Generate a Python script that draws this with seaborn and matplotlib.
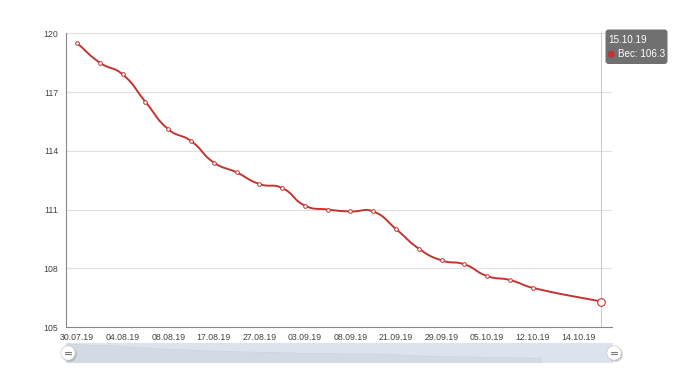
import numpy as np
import pandas as pd
import matplotlib
matplotlib.use("Agg")
import matplotlib.pyplot as plt
import seaborn as sns
from matplotlib.patches import FancyBboxPatch, Circle, Rectangle

# ---------------- data ----------------
dates = ["30.07.19", "01.08.19", "04.08.19", "06.08.19", "08.08.19", "13.08.19",
         "17.08.19", "22.08.19", "27.08.19", "31.08.19", "03.09.19", "06.09.19",
         "08.09.19", "14.09.19", "21.09.19", "25.09.19", "29.09.19", "02.10.19",
         "05.10.19", "09.10.19", "12.10.19", "13.10.19", "14.10.19", "15.10.19"]
weights = [119.5, 118.5, 117.9, 116.5, 115.1, 114.5, 113.4, 112.9, 112.3, 112.1,
           111.2, 111.0, 110.9, 110.9, 110.0, 109.0, 108.4, 108.2, 107.6, 107.4,
           107.0, np.nan, np.nan, 106.3]
y_ticks = [105, 108, 111, 114, 117, 120]
series_name = "Вес"
hover_index = 23

RED = "#c23531"
W, H = 680, 383

sns.set_style("white")
plt.rcParams["font.family"] = ["Liberation Sans", "DejaVu Sans"]

df = pd.DataFrame({"date": dates, "weight": weights})
df["idx"] = np.arange(len(df))
valid = df.dropna()


def smooth_curve(xs, ys, sx, sy, smooth=0.5, n=40):
    """ECharts-like smooth bezier through points (rendering only)."""
    P = np.column_stack([np.asarray(xs, float) * sx, np.asarray(ys, float) * sy])
    N = len(P)
    cps = []
    for i in range(N):
        p = P[i]
        prev = P[i - 1] if i > 0 else p
        nxt = P[i + 1] if i < N - 1 else p
        v = (nxt - prev) * smooth
        d0 = np.linalg.norm(p - prev)
        d1 = np.linalg.norm(p - nxt)
        s = d0 + d1
        if s:
            d0 /= s
            d1 /= s
        cps.append((p - v * d0, p + v * d1))
    t = np.linspace(0, 1, n)[:, None]
    segs = []
    for i in range(N - 1):
        p0, c1, c2, p3 = P[i], cps[i][1], cps[i + 1][0], P[i + 1]
        B = (1 - t) ** 3 * p0 + 3 * (1 - t) ** 2 * t * c1 + 3 * (1 - t) * t ** 2 * c2 + t ** 3 * p3
        segs.append(B if i == 0 else B[1:])
    B = np.vstack(segs)
    return B[:, 0] / sx, B[:, 1] / sy


fig = plt.figure(figsize=(W / 100, H / 100), dpi=100)


def px_axes(x0, y0, x1, y1):
    return fig.add_axes([x0 / W, 1 - y1 / H, (x1 - x0) / W, (y1 - y0) / H])


# ---------------- main chart ----------------
ax = px_axes(65.7, 33.3, 612.5, 327.0)
ax.set_xlim(-0.5, len(dates) - 0.5)
ax.set_ylim(105, 120)

cx, cy = smooth_curve(valid["idx"], valid["weight"], 22.77, 19.53)
curve = pd.DataFrame({"x": cx, "y": cy})
sns.lineplot(data=curve, x="x", y="y", ax=ax, color=RED, linewidth=1.4,
             sort=False, estimator=None, zorder=3)

small = valid[valid["idx"] != hover_index]
sns.scatterplot(data=small, x="idx", y="weight", ax=ax, s=7, facecolor="white",
                edgecolor=RED, linewidth=0.7, zorder=4)
big = valid[valid["idx"] == hover_index]
sns.scatterplot(data=big, x="idx", y="weight", ax=ax, s=30, facecolor="white",
                edgecolor=RED, linewidth=0.8, zorder=5)

# hover cursor line
ax.axvline(hover_index, color="#cccccc", lw=0.8, zorder=1)

for yt in y_ticks[1:]:
    ax.axhline(yt, color="#e0e0e0", lw=0.8, zorder=0)

ax.set_yticks(y_ticks)
ax.set_yticklabels([str(v) for v in y_ticks])
ax.set_xticks(np.arange(0, len(dates), 2))
ax.set_xticklabels(dates[::2])
ax.set_xticks(np.arange(1, len(dates), 2), minor=True)
ax.tick_params(axis="x", which="major", length=0, pad=4.5, labelsize=6.3, colors="#444444")
ax.tick_params(axis="x", which="minor", length=3, width=0.8, color="#888888")
ax.tick_params(axis="y", length=2.2, width=0.8, color="#888888", pad=3,
               labelsize=6.3, labelcolor="#444444")
ax.set_xlabel("")
ax.set_ylabel("")
for side in ["top", "right"]:
    ax.spines[side].set_visible(False)
for side in ["left", "bottom"]:
    ax.spines[side].set_color("#888888")
    ax.spines[side].set_linewidth(0.8)
ax.set_facecolor("none")

# ---------------- data zoom slider ----------------
sax = px_axes(66, 343.3, 613, 362.7)
sax.set_xlim(0, len(dates) - 1)
sax.set_ylim(103.2, 120.1)
sax.add_patch(Rectangle((0, 0), 1, 1, transform=sax.transAxes, color="#dde3ec", zorder=0))
shadow = df.iloc[:21]
sax.fill_between(shadow["idx"], shadow["weight"], 103.2, color="#2f4554", alpha=0.05,
                 lw=0, zorder=1)
sax.plot(shadow["idx"], shadow["weight"], color="#2f4554", alpha=0.1, lw=0.5, zorder=2)
sax.axis("off")

# ---------------- overlay (handles, tooltip) ----------------
ov = fig.add_axes([0, 0, 1, 1])
ov.set_xlim(0, W)
ov.set_ylim(H, 0)
ov.axis("off")
ov.patch.set_alpha(0)

for hx in (68, 614):
    ov.add_patch(Circle((hx + 1.4, 354.4), 7.4, color="#8a8a8a", alpha=0.45, lw=0, zorder=5))
    ov.add_patch(Circle((hx, 353), 7.2, facecolor="white", edgecolor="#c8c8c8", lw=0.5, zorder=6))
    for dy in (-1.3, 1.3):
        ov.plot([hx - 2.6, hx + 2.6], [353 + dy, 353 + dy], color="#777777", lw=0.8, zorder=7)

ov.add_patch(FancyBboxPatch((605.5, 29.5), 62, 34.5,
                            boxstyle="round,pad=0,rounding_size=3",
                            facecolor="#707070", edgecolor="none", zorder=8))
ov.text(608.5, 40.3, dates[hover_index], color="white", fontsize=7.1,
        va="center", ha="left", zorder=9)
ov.add_patch(Circle((611.3, 54.3), 2.8, color=RED, zorder=9))
ov.text(617.5, 54.3, f"{series_name}: {weights[hover_index]}", color="white",
        fontsize=7.1, va="center", ha="left", zorder=9)

fig.savefig("out.png", dpi=100)
